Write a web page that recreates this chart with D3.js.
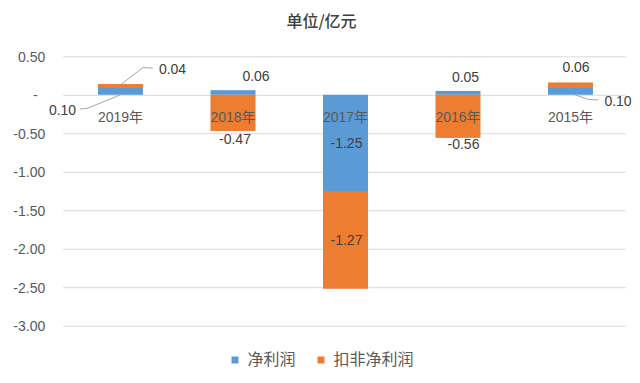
<!DOCTYPE html>
<html>
<head>
<meta charset="utf-8">
<script src="https://cdn.jsdelivr.net/npm/d3@7/dist/d3.min.js"></script>
<style>
  html, body { margin: 0; padding: 0; background: #fff; }
  svg { display: block; }
  text { font-family: 'Liberation Sans', 'Noto Sans CJK SC', sans-serif; fill: #595959; }
</style>
</head>
<body>
<svg id="chart" width="640" height="383"></svg>
<script>
// ---- data ----
const categories = ["2019年", "2018年", "2017年", "2016年", "2015年"];
const netProfit = [0.10, 0.06, -1.25, 0.05, 0.10];
const adjNetProfit = [0.04, -0.47, -1.27, -0.56, 0.06];
const seriesNames = ["净利润", "扣非净利润"];
const yTickValues = [0.5, 0, -0.5, -1, -1.5, -2, -2.5, -3];
const yTickLabels = ["0.50", "-", "-0.50", "-1.00", "-1.50", "-2.00", "-2.50", "-3.00"];
const titleText = "单位/亿元";

// ---- layout / style (not data) ----
const colors = ["#5B9BD5", "#ED7D31"];
// data-label nudges in px relative to (bar centre, segment middle) — series 0 then series 1
const labelNudge = [
  [[-58, 19], [23, -16], [1, 0], [7.5, -15.5], [47.5, 10]],
  [[52, -16.5], [2, 26.5], [1, 0], [5.5, 28], [5.5, -17.5]]
];
// leader lines: [seriesIndex, categoryIndex, barPointDx, barEdge]
const leaders = [[0, 0, 0, "low"], [1, 0, 1, "high"], [0, 4, 4.5, "low"]];

const svg = d3.select("#chart");
const x = d3.scaleBand().domain(categories).range([64.25, 626.75]).paddingInner(0.6).paddingOuter(0.3);
const y = d3.scaleLinear().domain([-3, 0.5]).range([325.7, 56.3]);

const rows = categories.map((c, i) => ({ cat: c, s0: netProfit[i], s1: adjNetProfit[i] }));
const stacked = d3.stack().keys(["s0", "s1"]).offset(d3.stackOffsetDiverging)(rows);

// title
svg.append("text").attr("x", 321.5).attr("y", 21.5).attr("dy", "0.35em")
  .attr("text-anchor", "middle")
  .style("font-family", "'Noto Sans CJK SC', sans-serif")
  .style("font-size", "16px").style("font-weight", "500").style("fill", "#404040")
  .text(titleText);

// gridlines + y labels
const yAxis = d3.axisLeft(y).tickValues(yTickValues)
  .tickSize(-(x.range()[1] - x.range()[0]))
  .tickFormat((d, i) => yTickLabels[i]);
const gy = svg.append("g").attr("transform", `translate(${x.range()[0] - 1},0)`).call(yAxis);
gy.select(".domain").remove();
gy.selectAll(".tick line").attr("stroke", "#D9D9D9").attr("stroke-width", 1);
gy.selectAll(".tick text").attr("x", -18).attr("dy", "0.35em")
  .style("font-size", "14px").style("fill", "#595959").style("font-family", "'Liberation Sans', sans-serif")
  .attr("dx", (d) => d === 0 ? -7.5 : 0);

// bars
const gBars = svg.append("g");
stacked.forEach((s, si) => {
  gBars.selectAll(null).data(s).join("rect")
    .attr("x", d => x(d.data.cat))
    .attr("width", x.bandwidth())
    .attr("y", d => y(Math.max(d[0], d[1])))
    .attr("height", d => Math.abs(y(d[0]) - y(d[1])))
    .attr("fill", colors[si]);
});

// category labels (on top of bars, just below zero line)
svg.append("g").selectAll("text").data(categories).join("text")
  .attr("x", d => x(d) + x.bandwidth() / 2)
  .attr("y", y(0) + 22).attr("dy", "0.35em")
  .attr("text-anchor", "middle")
  .style("font-size", "14px")
  .text(d => d);

// data labels
const fmt = v => v.toFixed(2);
const labelPos = {};
stacked.forEach((s, si) => {
  s.forEach((d, i) => {
    const cx = x(d.data.cat) + x.bandwidth() / 2 + labelNudge[si][i][0];
    const cy = y((d[0] + d[1]) / 2) + labelNudge[si][i][1];
    const v = si === 0 ? netProfit[i] : adjNetProfit[i];
    const t = svg.append("text").attr("x", cx).attr("y", cy).attr("dy", "0.35em")
      .attr("text-anchor", "middle").style("font-size", "14px").style("fill", "#404040")
      .text(fmt(v));
    labelPos[si + "_" + i] = { cx, cy, w: t.node().getComputedTextLength(), d };
  });
});

// leader lines
leaders.forEach(([si, ci, bdx, edge]) => {
  const L = labelPos[si + "_" + ci];
  const bx = x(categories[ci]) + x.bandwidth() / 2 + bdx;
  const by = edge === "high" ? y(Math.max(L.d[0], L.d[1])) : y(Math.min(Math.abs(L.d[0]), Math.abs(L.d[1])));
  const toRight = bx > L.cx;
  const sx = toRight ? L.cx + L.w / 2 + 4 : L.cx - L.w / 2 - 6;
  const ex = toRight ? sx + 7 : sx - 10;
  const sy = L.cy - 1;
  svg.append("path")
    .attr("d", d3.line()([[sx, sy], [ex, sy - 0.5], [bx, by]]))
    .attr("fill", "none").attr("stroke", "#A6A6A6").attr("stroke-width", 1);
});

// legend
const legend = svg.append("g");
const legendX = [231.5, 317.5];
seriesNames.forEach((n, i) => {
  legend.append("rect").attr("x", legendX[i]).attr("y", 356.5).attr("width", 7).attr("height", 7).attr("fill", colors[i]);
  legend.append("text").attr("x", legendX[i] + 16).attr("y", 359.5).attr("dy", "0.35em")
    .style("font-family", "'Noto Sans CJK SC', sans-serif").style("font-size", "16px").text(n);
});
</script>
</body>
</html>
